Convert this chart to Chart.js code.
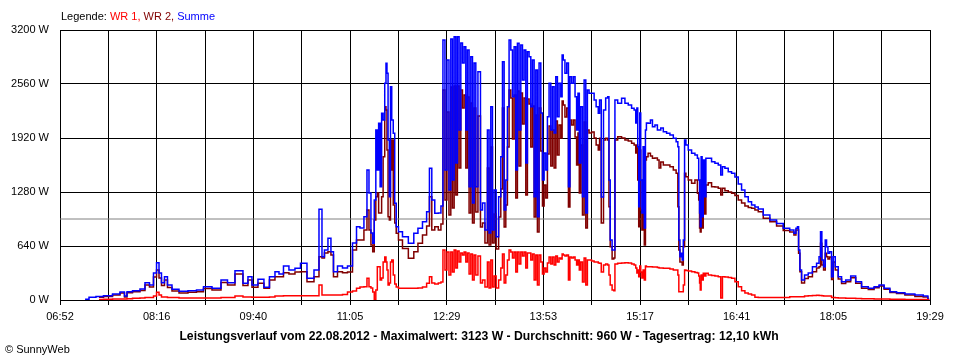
<!DOCTYPE html>
<html><head><meta charset="utf-8">
<script src="https://cdn.jsdelivr.net/npm/chart.js@4.4.1/dist/chart.umd.min.js"></script>
<style>html,body{margin:0;padding:0;background:#fff;} #c{display:block;}</style>
</head><body>
<canvas id="c" width="960" height="360"></canvas>
<script>
// x values are minutes since midnight
const xStart = 412.7, xEnd = 1169.7;
const xTickLabels = ['06:52','08:16','09:40','11:05','12:29','13:53','15:17','16:41','18:05','19:29'];
const yTickValues = [0, 640, 1280, 1920, 2560, 3200];
const yTickLabels = ['0 W','640 W','1280 W','1920 W','2560 W','3200 W'];
const average = 960;

const times = [
 434.5,441.4,446.6,454.5,462.3,467.5,470.1,471.9,479.7,484.9,488.4,492.7,495.4,498.0,499.7,502.3,504.9,507.5,512.8,519.7,528.4,534.5,540.6,549.3,556.3,560.6,569.3,574.5,578.0,
 581.5,588.4,591.9,598.0,601.5,605.0,609.3,614.5,619.8,624.1,631.1,636.3,639.8,641.5,644.1,647.6,649.3,652.0,656.3,660.7,665.0,669.4,672.0,675.4,678.9,680.7,682.4,684.1,685.5,686.8,688.2,689.4,690.5,692.0,693.1,694.6,695.9,696.8,697.6,698.7,699.8,700.7,702.0,703.3,704.6,705.9,708.5,712.9,718.7,722.4,725.9,730.3,733.1,735.2,737.2,740.4,743.3,
 745.0,746.8,748.5,750.3,752.0,753.5,754.9,756.4,757.8,759.2,760.7,762.2,763.6,765.1,766.5,767.9,769.4,770.9,772.3,773.8,775.2,777.5,779.6,781.0,783.9,785.3,786.8,788.3,789.7,791.2,793.2,795.5,797.0,798.4,799.9,801.3,802.7,804.2,805.7,807.1,808.6,810.0,811.4,812.9,814.4,815.8,817.3,818.7,820.1,821.6,823.1,824.5,826.0,827.4,828.8,830.3,831.8,833.2,834.7,836.1,837.5,839.0,840.5,841.9,843.4,844.8,846.2,847.7,849.2,850.0,851.2,852.9,854.4,855.8,857.0,858.7,860.1,861.6,862.8,864.0,865.1,866.6,868.0,869.5,870.9,872.3,873.8,876.7,878.2,880.2,881.9,
 882.5,884.8,886.4,888.6,889.9,890.8,892.1,894.1,895.1,896.0,899.9,902.8,905.7,908.6,911.5,913.0,914.3,915.0,915.8,916.7,917.6,918.4,919.6,920.5,921.7,922.5,923.4,925.4,927.5,928.9,931.8,933.2,934.7,936.2,939.1,941.9,944.9,947.8,949.8,950.8,951.5,952.7,953.6,954.5,955.6,956.7,957.9,960.8,963.7,966.6,968.0,968.9,969.5,970.1,971.0,971.8,973.0,974.1,975.3,978.2,981.1,984.0,986.9,988.4,989.8,992.7,995.6,998.5,1001.4,1004.3,1007.2,1010.1,1013.0,1015.9,1018.8,1021.7,1027.5,1033.3,1039.1,1044.9,1050.4,1052.2,1053.9,1054.8,1055.9,1057.1,1058.8,1062.3,1065.2,1069.6,1072.4,1073.9,1075.0,1076.2,1078.0,1079.1,1080.3,1081.5,1083.2,1084.9,1086.1,1088.4,1091.3,1094.2,1098.5,1102.9,1107.2,1113.1,1118.9,1123.2,1127.6,1131.9,1137.7,1143.5,1152.2,1160.9,1166.7,1169.0
];

const summe = [
 8,32,41,51,71,95,47,98,110,130,205,178,320,442,320,205,276,178,127,103,110,119,158,139,237,205,347,198,276,
 178,245,150,276,335,308,403,356,375,435,257,356,1075,513,593,731,572,335,403,379,403,675,869,853,987,1541,1268,794,672,1185,2015,1541,2094,1343,2212,2133,2568,2805,2686,1896,1224,2528,2133,1975,1146,869,809,750,672,790,850,928,1046,1561,1185,1027,1031,
 1114,3081,1541,2844,1304,3093,1422,3120,1623,3120,2015,3045,2808,3002,2015,2963,1343,2883,1149,2808,1343,2705,1067,1149,830,2015,794,2291,830,1304,750,1224,1698,2824,1067,1422,2291,3081,2963,2409,3002,1541,3042,2015,3022,2607,2963,1623,2942,2883,2291,2844,1224,2726,987,2808,2216,1422,1742,1541,2172,2568,2015,2528,1979,2646,2172,2568,2409,2903,2844,2686,2808,1343,2646,2568,2646,2409,2015,2449,1623,2291,1224,2607,1031,2489,2449,2449,2370,2291,2212,
 2370,1220,2252,2394,2409,1422,711,593,593,2370,2331,2390,2331,2311,2272,2252,2097,2275,1817,1106,2216,1422,1031,1817,853,2015,2097,2094,2133,2054,2074,2015,2015,2038,1994,1975,1955,1916,1876,1817,711,513,553,474,711,1896,1837,1778,1738,1718,1679,1422,1031,869,1698,987,1659,1224,1679,1679,1639,1620,1600,1481,1580,1561,1520,1501,1458,1375,1304,1224,1165,1126,1102,1078,1007,948,907,850,830,790,850,869,593,356,237,296,320,395,435,513,809,474,395,711,632,553,572,276,513,395,276,217,237,284,217,158,139,158,178,139,98,87,71,59,47,8
];

const wr2 = [
 null,null,32,41,59,83,36,87,98,113,178,154,273,356,261,172,237,148,107,83,91,98,136,119,207,178,308,172,237,
 150,198,139,237,276,276,324,308,332,335,217,276,513,498,557,572,533,276,335,324,332,593,711,711,830,1067,830,652,572,948,1224,1268,1031,1031,1224,1698,2291,2252,1778,987,948,1541,1896,1126,912,790,711,611,494,572,672,770,877,1224,830,869,830,
 901,2489,1185,2228,1007,2524,1090,2536,1244,2536,1564,2489,2275,2429,1564,2406,1031,2334,912,2275,1043,2180,865,912,675,1564,652,1813,675,1019,604,984,1315,2275,865,1126,1813,2489,2394,1908,2429,1209,2477,1588,2453,2086,2394,1244,2382,2323,1813,2299,984,2192,806,2275,1766,1114,1363,1209,1730,2062,1588,2015,1564,2121,1718,2074,1920,2358,2311,2169,2275,1102,2133,2074,2133,1932,1600,1979,1268,1837,1007,2109,853,2015,1979,1991,1920,1837,1778,
 1916,912,1896,1916,1896,1106,632,486,498,1896,1935,1920,1896,1884,1857,1837,1742,1837,1422,869,1778,1067,830,1422,652,1659,1698,1738,1706,1679,1683,1659,1564,1635,1600,1600,1580,1541,1501,1106,593,450,450,415,632,1501,1461,1422,1383,1422,1264,1185,853,806,1422,853,1304,1019,1363,1390,1343,1339,1324,1244,1324,1295,1280,1264,1238,1185,1149,1114,1096,1087,1067,1046,968,928,877,824,806,770,830,830,553,335,201,255,276,335,379,395,672,415,356,553,513,486,510,243,450,356,249,196,217,264,198,139,124,146,166,127,89,77,59,41,36,8
];

const wr1 = [
 null,null,6,8,12,12,12,15,20,24,30,30,47,91,59,36,36,30,30,24,24,24,24,24,30,30,47,36,36,
 32,32,32,36,47,47,51,51,51,51,51,51,178,59,59,59,59,59,59,65,95,107,139,154,158,257,158,142,95,0,119,395,395,237,261,450,510,450,356,178,201,450,474,296,190,154,139,139,139,139,142,154,198,276,201,190,201,
 213,593,356,569,296,569,332,593,379,581,450,557,533,569,450,557,308,545,237,533,296,521,201,237,154,450,142,474,154,284,142,237,379,545,201,296,474,593,569,498,569,332,569,427,569,521,569,379,557,557,474,545,237,533,178,533,450,308,379,332,438,510,427,510,415,521,450,498,486,545,533,521,533,237,510,498,510,474,415,474,356,450,213,498,178,474,474,462,450,450,438,
 435,332,415,427,415,296,178,119,110,427,435,438,442,438,427,415,379,320,356,276,403,332,261,356,237,403,395,395,395,391,391,385,379,379,376,376,367,356,356,296,98,98,98,98,178,356,350,344,335,326,320,284,201,119,296,237,316,284,316,296,290,284,276,24,276,273,267,257,217,158,110,83,71,59,32,30,30,30,30,30,39,39,39,39,39,39,39,47,51,53,56,53,53,51,47,47,47,47,47,30,30,27,24,24,20,20,18,15,14,12,12,12,9,8,7,6,6,4
];

const legendParts = [['Legende: ', '#000000'], ['WR 1, ', '#FF0000'], ['WR 2, ', '#800000'], ['Summe', '#0000FF']];
const titleText = 'Leistungsverlauf vom 22.08.2012 - Maximalwert: 3123 W - Durchschnitt: 960 W - Tagesertrag: 12,10 kWh';
const copyrightText = '\u00A9 SunnyWeb';

const FONT = '"Liberation Sans", Arial, sans-serif';

function pts(values) { return times.map((t, i) => ({ x: t, y: values[i] })); }

const textPlugin = {
  id: 'texts',
  afterDraw(chart) {
    const ctx = chart.ctx;
    ctx.save();
    ctx.font = '11px ' + FONT;
    ctx.textBaseline = 'middle';
    ctx.textAlign = 'left';
    let x = 61;
    for (const [t, c] of legendParts) {
      ctx.fillStyle = c;
      ctx.fillText(t, x, 17);
      x += ctx.measureText(t).width;
    }
    ctx.fillStyle = '#000';
    ctx.font = 'bold 12.2px ' + FONT;
    ctx.textAlign = 'center';
    ctx.fillText(titleText, 479, 337);
    ctx.font = '11px ' + FONT;
    ctx.textAlign = 'left';
    ctx.fillText(copyrightText, 5, 350);
    ctx.restore();
  }
};

const lineStyle = { borderWidth: 1.5, borderJoinStyle: 'miter', stepped: 'middle' };

new Chart(document.getElementById('c'), {
  type: 'line',
  data: {
    datasets: [
      Object.assign({ label: 'WR 1', data: pts(wr1), borderColor: '#FF0000', order: 0 }, lineStyle),
      Object.assign({ label: 'Summe', data: pts(summe), borderColor: '#0000FF', order: 1 }, lineStyle),
      Object.assign({ label: 'WR 2', data: pts(wr2), borderColor: '#800000', order: 2 }, lineStyle),
      { label: 'Durchschnitt', data: [{ x: xStart, y: average }, { x: xEnd, y: average }], borderColor: '#808080', borderWidth: 1, order: 3 }
    ]
  },
  options: {
    responsive: false,
    animation: false,
    devicePixelRatio: 1,
    layout: { padding: { left: 0, right: 30, top: 30, bottom: 0 } },
    elements: { point: { radius: 0, hitRadius: 0, hoverRadius: 0 }, line: { tension: 0, fill: false } },
    plugins: { legend: { display: false }, tooltip: { enabled: false }, title: { display: false } },
    scales: {
      x: {
        type: 'linear', min: xStart, max: xEnd,
        afterBuildTicks(scale) {
          const t = [];
          for (let k = 0; k <= 18; k++) t.push({ value: xStart + k * (xEnd - xStart) / 18 });
          scale.ticks = t;
        },
        afterFit(scale) { scale.height = 60; },
        ticks: {
          autoSkip: false, maxRotation: 0, minRotation: 0, padding: 5,
          color: '#000', font: { family: FONT, size: 11 },
          callback: (v, i) => (i % 2 === 0 ? xTickLabels[i / 2] : '')
        },
        grid: { color: '#000', lineWidth: 1, tickLength: 5, drawTicks: true, tickColor: '#000' },
        border: { display: true, color: '#000', width: 1 }
      },
      y: {
        type: 'linear', min: 0, max: 3200,
        afterBuildTicks(scale) { scale.ticks = yTickValues.map(v => ({ value: v })); },
        afterFit(scale) { scale.width = 60; },
        ticks: {
          padding: 11, color: '#000', font: { family: FONT, size: 11 },
          callback: (v, i) => yTickLabels[i]
        },
        grid: { color: '#000', lineWidth: 1, drawTicks: false },
        border: { display: true, color: '#000', width: 1 }
      }
    }
  },
  plugins: [textPlugin]
});
</script>
</body></html>
